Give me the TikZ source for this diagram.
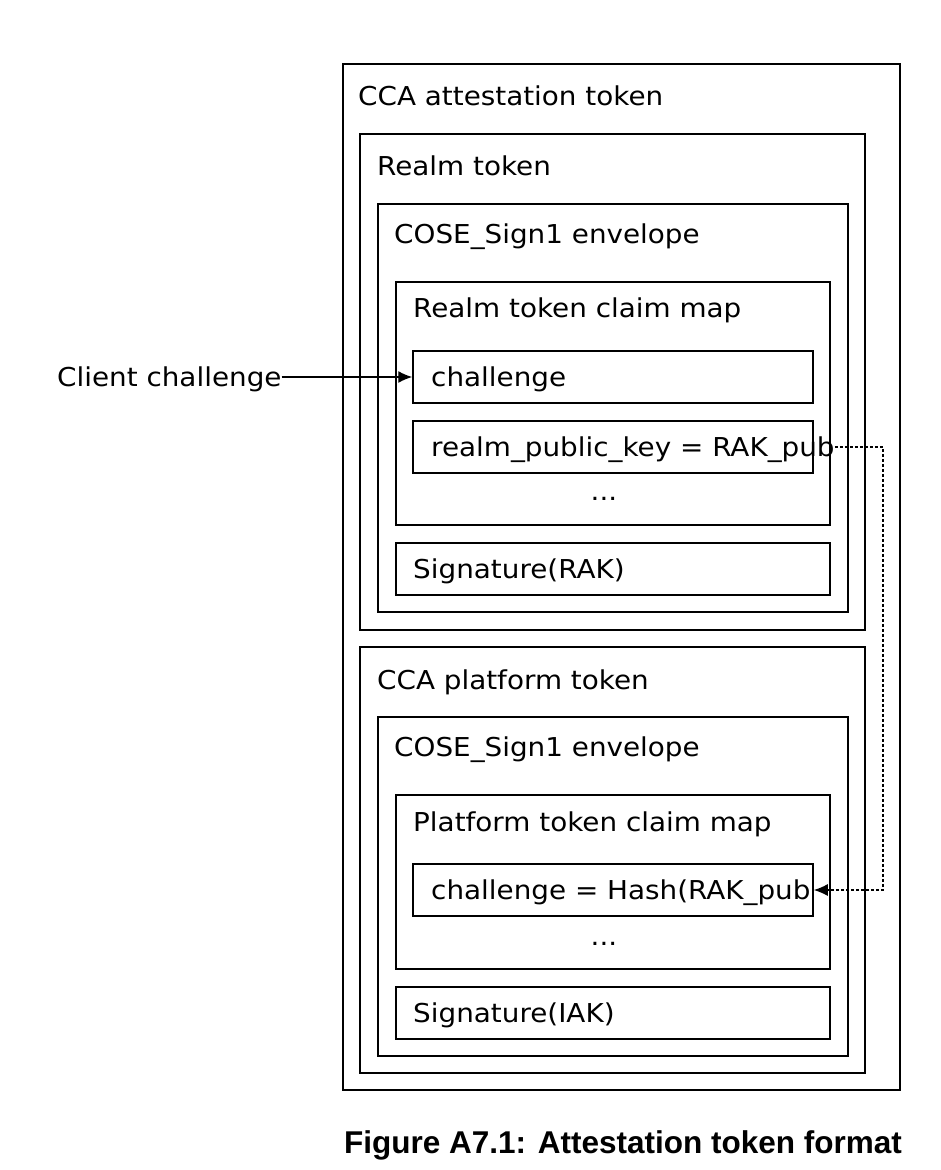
\documentclass[tikz,border=0pt]{standalone}
\usepackage{fontspec}
\setmainfont[FakeStretch=1.07]{DejaVu Sans}
\newfontfamily\capfont{Liberation Sans}
\usetikzlibrary{arrows.meta}
\begin{document}
\begin{tikzpicture}[x=1pt,y=-1pt,
  box/.style={draw,line width=1.5pt,inner sep=0pt,minimum width=#1},
  lbl/.style={anchor=base west,inner sep=0pt,font=\fontsize{26}{30}\selectfont},
  conn/.style={line width=1.4pt,-{Latex[length=14pt,width=12pt]}},
  dconn/.style={line width=1.3pt,dash pattern=on 3pt off 2pt,-{Latex[length=14pt,width=12pt]}}]
\useasboundingbox (0,0) rectangle (941,1170);
% boxes
\node[box=557pt,minimum height=1026pt] (outer) at (621.5,577) {};
\node[box=505pt,minimum height=496pt] (realm) at (612.5,382) {};
\node[box=470pt,minimum height=408pt] (cose1) at (613,408) {};
\node[box=434pt,minimum height=243pt] (rmap) at (613,403.5) {};
\node[box=400pt,minimum height=52pt] (chal) at (613,377) {};
\node[box=400pt,minimum height=52pt] (rpk) at (613,447) {};
\node[box=434pt,minimum height=52pt] (sigr) at (613,569) {};
\node[box=505pt,minimum height=426pt] (plat) at (612.5,860) {};
\node[box=470pt,minimum height=339pt] (cose2) at (613,886.5) {};
\node[box=434pt,minimum height=174pt] (pmap) at (613,882) {};
\node[box=400pt,minimum height=52pt] (pchal) at (613,890) {};
\node[box=434pt,minimum height=52pt] (sigi) at (613,1013) {};
% labels
\node[lbl] (louter) at (358,105) {CCA attestation token};
\node[lbl] (lrealm) at (377,175) {Realm token};
\node[lbl] (lcose1) at (394,243) {COSE\_Sign1 envelope};
\node[lbl] (lrmap) at (413,317) {Realm token claim map};
\node[lbl] (lchal) at (431,386) {challenge};
\node[lbl] (lrpk) at (431,456) {realm\_public\_key = RAK\_pub};
\node[anchor=base,inner sep=0pt,font=\fontsize{26}{30}\selectfont] (dots1) at (604,500) {...};
\node[lbl] (lsigr) at (413,578) {Signature(RAK)};
\node[lbl] (lplat) at (377,689) {CCA platform token};
\node[lbl] (lcose2) at (394,756) {COSE\_Sign1 envelope};
\node[lbl] (lpmap) at (413,831) {Platform token claim map};
\node[lbl] (lpchal) at (431,899) {challenge = Hash(RAK\_pub};
\node[anchor=base,inner sep=0pt,font=\fontsize{26}{30}\selectfont] (dots2) at (604,945) {...};
\node[lbl] (lsigi) at (413,1022) {Signature(IAK)};
\node[lbl] (client) at (57,386) {Client challenge};
% connectors
\coordinate (turn) at (883,447);
\draw[conn] (client.east |- chal.west) -- (chal.west);
\draw[dconn] (lrpk.east |- rpk.east) -- (turn) |- (pchal.east);
% caption
\node[anchor=base west,inner sep=0pt,font=\capfont\bfseries\fontsize{31.5}{36}\selectfont] (cap) at (344,1153) {Figure A7.1: Attestation token format};
\end{tikzpicture}
\end{document}
